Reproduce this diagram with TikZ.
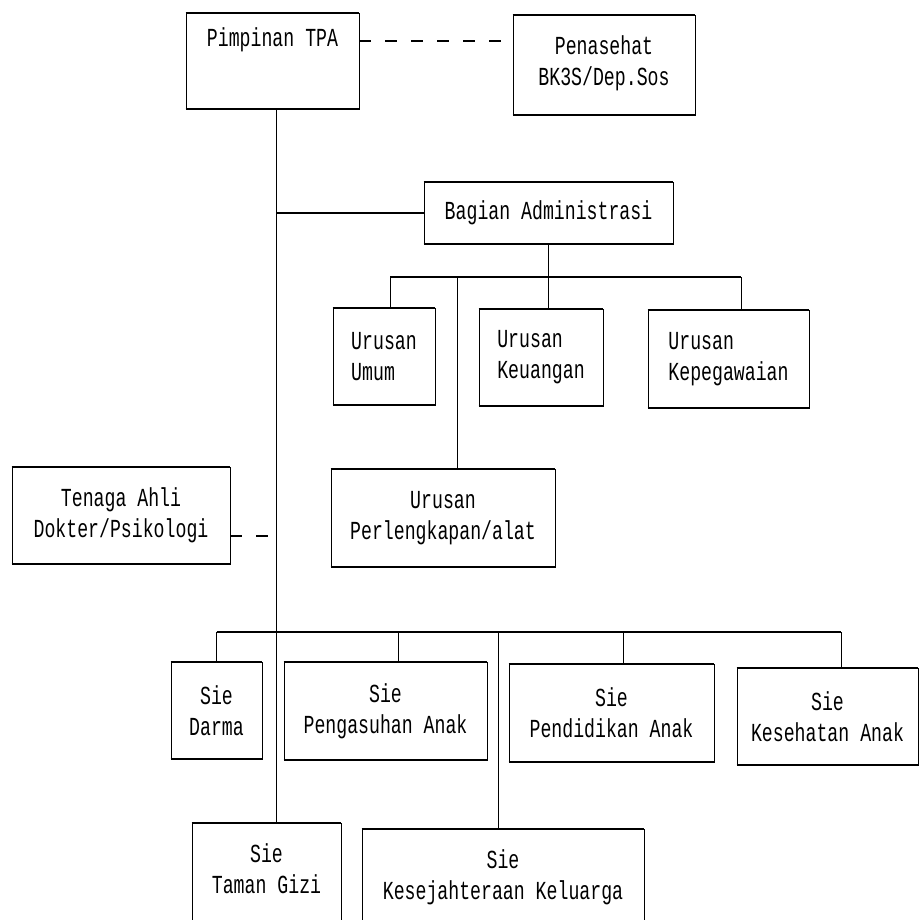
\documentclass[tikz,border=0pt]{standalone}
\usepackage{fontspec}
\newfontfamily\dotfont[FakeStretch=0.7]{Liberation Mono}
\tikzset{
    hline/.style={line width=2pt},
    vline/.style={line width=0.8pt},
    dline/.style={line width=2pt,dash pattern=on 12pt off 14pt},
    unit/.style={draw,line width=0.8pt,inner sep=0pt,align=center,
        font=\dotfont\fontsize{26}{31}\selectfont,
        append after command={(\tikzlastnode.north west) edge[hline] (\tikzlastnode.north east)
            (\tikzlastnode.south west) edge[hline] (\tikzlastnode.south east)}},
}

\begin{document}
\begin{tikzpicture}[x=1pt,y=-1pt]
    \clip (0,0) rectangle (920,919);

    % pimpinan dan penasehat
    \node[unit,minimum width=173pt,minimum height=96pt] (pim) at (272.5,61) {Pimpinan TPA\\[17pt]\mbox{}};
    \node[unit,minimum width=182pt,minimum height=100pt] (pen) at (604,65) {Penasehat\\BK3S/Dep.Sos\\[-22pt]\mbox{}};
    \draw[dline] ([yshift=20pt]pim.east) -- ([yshift=20pt]pim.east -| pen.west);

    % administrasi
    \node[unit,minimum width=249pt,minimum height=62pt] (bag) at (548.5,213) {Bagian Administrasi};
    \node[unit,align=left,minimum width=102pt,minimum height=97pt] (umum) at (384,356.5) {Urusan\\Umum};
    \node[unit,align=left,minimum width=124pt,minimum height=97pt] (keu) at (541,357.5) {Urusan\\Keuangan};
    \node[unit,align=left,minimum width=161pt,minimum height=98pt] (peg) at (728.5,359) {Urusan\\Kepegawaian};
    \node[unit,minimum width=224pt,minimum height=98pt] (alat) at (443,518) {Urusan\\Perlengkapan/alat};
    \node[unit,minimum width=218pt,minimum height=97pt] (ahli) at (121,515.5) {Tenaga Ahli\\Dokter/Psikologi};

    % seksi
    \node[unit,minimum width=91pt,minimum height=97pt] (darma) at (216.5,710.5) {Sie\\Darma};
    \node[unit,minimum width=203pt,minimum height=98pt] (asuh) at (385.5,711) {Sie\\Pengasuhan Anak};
    \node[unit,minimum width=205pt,minimum height=98pt] (didik) at (611.5,713) {Sie\\Pendidikan Anak};
    \node[unit,minimum width=181pt,minimum height=97pt] (sehat) at (827.5,716.5) {Sie\\Kesehatan Anak};
    \node[unit,minimum width=149pt,minimum height=102pt] (gizi) at (266.5,874) {Sie\\Taman Gizi\\[-20pt]\mbox{}};
    \node[unit,minimum width=282pt,minimum height=96pt] (sejah) at (503,877) {Sie\\Kesejahteraan Keluarga};

    % garis komando
    \coordinate (spine) at ([xshift=3.5pt]pim.south);
    \draw[vline] (spine) -- (spine |- gizi.north);
    \draw[hline] (bag.west) -- (bag.west -| spine);
    \draw[dline] ([yshift=-20pt]ahli.east) -- ([yshift=-20pt]ahli.east -| spine);

    \coordinate (adm) at ([yshift=-33pt]bag.south);
    \draw[vline] (bag.south) -- (bag.south |- keu.north);
    \draw[hline] ([xshift=6pt]umum.north |- adm) -- ([xshift=12.5pt]peg.north |- adm);
    \draw[vline] ([xshift=6pt]umum.north) -- ([xshift=6pt]umum.north |- adm);
    \draw[vline] ([xshift=12.5pt]peg.north) -- ([xshift=12.5pt]peg.north |- adm);
    \draw[vline] ([xshift=14pt]alat.north) -- ([xshift=14pt]alat.north |- adm);

    \coordinate (sie) at ([yshift=30pt]darma.north);
    \draw[hline] (darma.north |- sie) -- ([xshift=13.5pt]sehat.north |- sie);
    \draw[vline] (darma.north) -- (darma.north |- sie);
    \draw[vline] ([xshift=12.5pt]asuh.north) -- ([xshift=12.5pt]asuh.north |- sie);
    \draw[vline] ([xshift=11.5pt]didik.north) -- ([xshift=11.5pt]didik.north |- sie);
    \draw[vline] ([xshift=13.5pt]sehat.north) -- ([xshift=13.5pt]sehat.north |- sie);
    \draw[vline] ([xshift=-5pt]sejah.north) -- ([xshift=-5pt]sejah.north |- sie);

\end{tikzpicture}
\end{document}
